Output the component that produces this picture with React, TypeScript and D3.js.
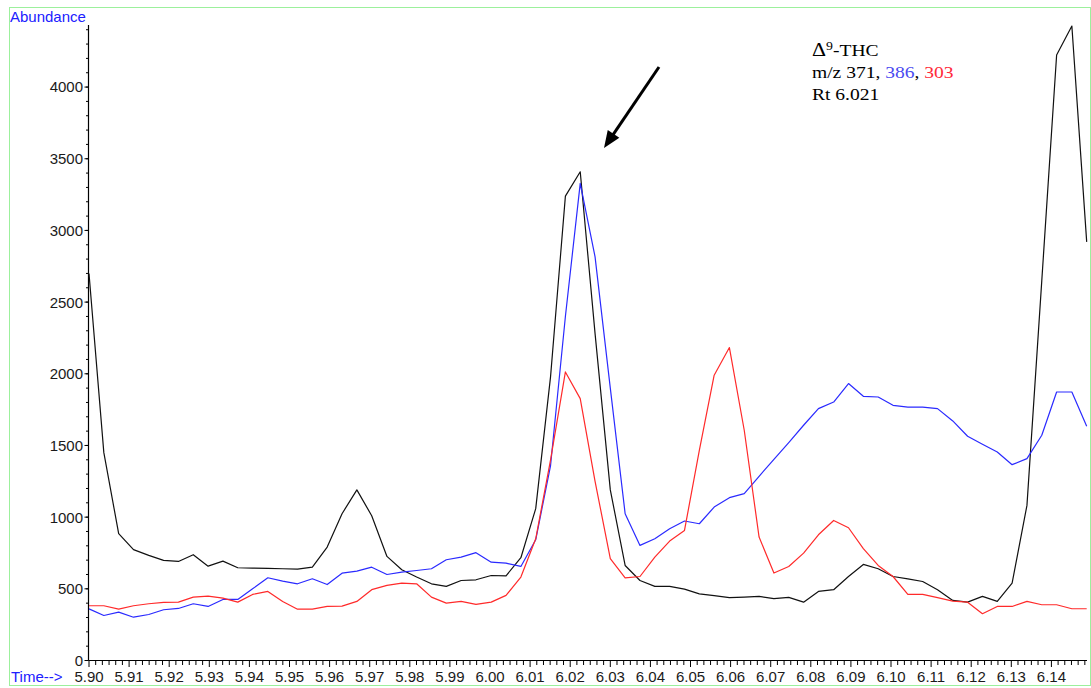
import React from "react";
import * as d3 from "d3";

// Retention times (min) of the scans
const times = [
  5.9, 5.9037, 5.9074, 5.9111, 5.9149, 5.9186, 5.9223, 5.926, 5.9297, 5.9334,
  5.9371, 5.9408, 5.9446, 5.9483, 5.952, 5.9557, 5.9594, 5.9631, 5.9668, 5.9705,
  5.9743, 5.978, 5.9817, 5.9854, 5.9891, 5.9928, 5.9965, 6.0003, 6.004, 6.0077,
  6.0114, 6.0151, 6.0188, 6.0225, 6.0262, 6.03, 6.0337, 6.0374, 6.0411, 6.0448,
  6.0485, 6.0522, 6.0559, 6.0597, 6.0634, 6.0671, 6.0708, 6.0745, 6.0782, 6.0819,
  6.0857, 6.0894, 6.0931, 6.0968, 6.1005, 6.1042, 6.1079, 6.1116, 6.1154, 6.1191,
  6.1228, 6.1265, 6.1302, 6.1339, 6.1376, 6.1413, 6.1451, 6.1488,
];

// m/z 371 (black)
const ion371 = [
  2700, 1450, 885, 773, 733, 698, 691, 738, 658, 693,
  647, 645, 643, 640, 638, 652, 791, 1024, 1190, 1010,
  726, 633, 582, 535, 517, 558, 563, 593, 591, 717,
  1059, 1980, 3239, 3409, 2280, 1190, 663, 558, 517, 517,
  498, 465, 452, 438, 442, 447, 431, 440, 407, 482,
  494, 586, 670, 640, 586, 570, 551, 494, 419, 407,
  447, 412, 540, 1082, 2650, 4224, 4426, 2920,
];

// m/z 386 (blue)
const ion386 = [
  360, 314, 337, 302, 321, 354, 363, 396, 377, 426,
  426, 500, 577, 554, 535, 570, 530, 609, 623, 651,
  600, 617, 628, 640, 703, 721, 752, 686, 679, 656,
  842, 1360, 2400, 3328, 2816, 1900, 1024, 803, 849, 919,
  973, 954, 1070, 1136, 1164, 1285, 1403, 1520, 1641, 1757,
  1803, 1932, 1843, 1838, 1780, 1768, 1768, 1757, 1671, 1564,
  1508, 1454, 1366, 1408, 1571, 1873, 1873, 1634,
];

// m/z 303 (red)
const ion303 = [
  382, 382, 358, 382, 396, 405, 407, 442, 449, 435,
  407, 461, 482, 412, 358, 358, 377, 379, 412, 494,
  524, 540, 535, 442, 400, 412, 391, 407, 454, 582,
  849, 1400, 2013, 1827, 1250, 710, 577, 586, 721, 833,
  907, 1466, 1990, 2183, 1606, 861, 610, 656, 749, 877,
  977, 926, 780, 663, 586, 461, 461, 438, 414, 407,
  326, 377, 377, 412, 389, 389, 361, 361,
];

const xMajorTicks = [
  "5.90", "5.91", "5.92", "5.93", "5.94", "5.95", "5.96", "5.97", "5.98", "5.99",
  "6.00", "6.01", "6.02", "6.03", "6.04", "6.05", "6.06", "6.07", "6.08", "6.09",
  "6.10", "6.11", "6.12", "6.13", "6.14",
];
const yMajorTicks = [0, 500, 1000, 1500, 2000, 2500, 3000, 3500, 4000];

const seriesList = [
  { name: "371", values: ion371, color: "#111111" },
  { name: "386", values: ion386, color: "#2a2aff" },
  { name: "303", values: ion303, color: "#ff2a2a" },
];

const W = 1091;
const H = 688;
const font = "'Liberation Sans', Arial, sans-serif";
const serif = "'Liberation Serif', 'Times New Roman', serif";

export default function App() {
  const x = d3.scaleLinear().domain([5.9, 6.1488]).range([89, 1086.7]);
  const y = d3.scaleLinear().domain([0, 4433]).range([660.5, 25]);

  const xMinor = d3
    .range(0, 150)
    .map((k) => 5.9 + (k * 0.01) / 6)
    .filter((v) => v <= 6.1489);
  const yMinor = d3.range(0, 4500, 100).filter((v) => v <= 4433);

  const line = d3
    .line<number>()
    .x((_, i) => x(times[i]))
    .y((d) => y(d));

  // arrow annotation
  const ax0 = 659, ay0 = 67, ax1 = 604, ay1 = 148;
  const dx = ax1 - ax0, dy = ay1 - ay0;
  const len = Math.hypot(dx, dy);
  const ux = dx / len, uy = dy / len;
  const hl = 17, hw = 7;
  const bx = ax1 - ux * hl, by = ay1 - uy * hl;
  const head = `${ax1},${ay1} ${bx - uy * hw},${by + ux * hw} ${bx + uy * hw},${by - ux * hw}`;

  return (
    <svg
      width={W}
      height={H}
      style={{ position: "absolute", left: 0, top: 0, background: "#fff" }}
    >
      <rect x={9.5} y={7.5} width={1081} height={678} fill="none" stroke="#9cf09c" strokeWidth={1} />

      <text x={10} y={22} fontFamily={font} fontSize={15} fill="#2020ff">
        Abundance
      </text>
      <text x={11} y={682} fontFamily={font} fontSize={15} fill="#2020ff">
        Time--&gt;
      </text>

      {/* y axis */}
      <line x1={88.5} x2={88.5} y1={25} y2={660.5} stroke="#000" strokeWidth={1.2} />
      {yMinor.map((v) => (
        <line key={"ym" + v} x1={86} x2={88.5} y1={y(v)} y2={y(v)} stroke="#000" strokeWidth={1} />
      ))}
      {yMajorTicks.map((v) => (
        <g key={"yM" + v}>
          <line x1={84.5} x2={88.5} y1={y(v)} y2={y(v)} stroke="#000" strokeWidth={1} />
          <text
            x={83}
            y={y(v)}
            dy="0.36em"
            textAnchor="end"
            fontFamily={font}
            fontSize={15}
            fill="#1a1a1a"
          >
            {v}
          </text>
        </g>
      ))}

      {/* x axis */}
      <line x1={88.5} x2={1087} y1={660.5} y2={660.5} stroke="#000" strokeWidth={1.2} />
      {xMinor.map((v, k) => (
        <line
          key={"xm" + k}
          x1={x(v)}
          x2={x(v)}
          y1={660.5}
          y2={k % 6 === 0 ? 667 : 665}
          stroke="#000"
          strokeWidth={1}
        />
      ))}
      {xMajorTicks.map((t) => (
        <text
          key={"xl" + t}
          x={x(+t)}
          y={682}
          textAnchor="middle"
          fontFamily={font}
          fontSize={15}
          fill="#1a1a1a"
        >
          {t}
        </text>
      ))}

      {/* traces */}
      {seriesList.map((s) => (
        <path
          key={s.name}
          d={line(s.values) || ""}
          fill="none"
          stroke={s.color}
          strokeWidth={1.2}
          strokeLinejoin="round"
        />
      ))}

      {/* annotation */}
      <g transform="translate(812,0) scale(1.15,1)">
        <text x={0} y={56} fontFamily={serif} fontSize={17} fill="#000">
          <tspan fontSize={19}>Δ</tspan>
          <tspan fontSize={12} dy={-6}>9</tspan>
          <tspan dy={6}>-THC</tspan>
        </text>
        <text x={0} y={78} fontFamily={serif} fontSize={17} fill="#000">
          m/z 371, <tspan fill="#4a4af0">386</tspan>, <tspan fill="#ff2a3a">303</tspan>
        </text>
        <text x={0} y={100} fontFamily={serif} fontSize={17} fill="#000">
          Rt 6.021
        </text>
      </g>

      <line x1={ax0} y1={ay0} x2={bx + ux * 2} y2={by + uy * 2} stroke="#000" strokeWidth={3} />
      <polygon points={head} fill="#000" />
    </svg>
  );
}
